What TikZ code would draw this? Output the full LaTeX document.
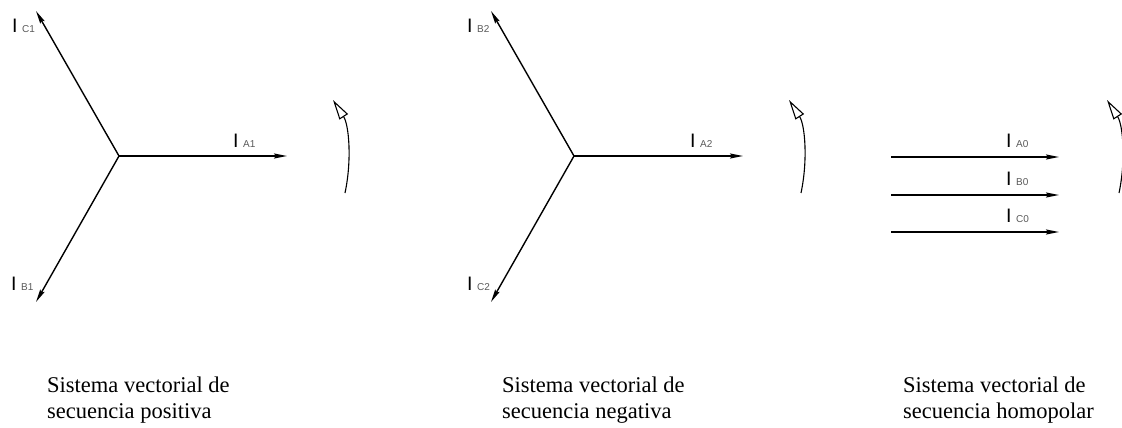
\documentclass[tikz,border=0pt]{standalone}
\usepackage{fontspec}
\setmainfont{Liberation Serif}
\newfontfamily\labfont{Liberation Sans}
\usetikzlibrary{arrows.meta}
\definecolor{subgray}{gray}{0.35}
\newcommand{\cur}[1]{{\fontsize{19.5}{19.5}\selectfont I}\hspace{4.5pt}{\fontsize{10}{10}\selectfont\color{subgray}#1}}
\tikzset{
  vec/.style={line width=1.4pt,-{Stealth[length=13pt,width=5pt,inset=2pt]}},
  rot/.style={line width=1.1pt,-{Triangle[open,length=20pt,width=10pt,line width=1.1pt]}},
  lab/.style={anchor=base west,inner sep=0pt,labfont},
  caption/.style={anchor=base west,inner sep=0pt,align=left,font=\fontsize{22.5}{26}\selectfont},
}
\begin{document}
\begin{tikzpicture}[x=1pt,y=-1pt,labfont/.style={font=\labfont}]
\useasboundingbox (0,0) rectangle (1122,428);
% ---------- positive sequence ----------
\coordinate (O1) at (119,156);
\coordinate (A1) at (287,156);
\coordinate (C1) at (36,11);
\coordinate (B1) at (36,302);
\draw[vec] (O1) -- (A1);
\draw[vec] (O1) -- (C1);
\draw[vec] (O1) -- (B1);
\node[lab] (lA1) at (233,147) {\cur{A1}};
\node[lab] (lC1) at (12,33) {\cur{C1}};
\node[lab] (lB1) at (11,290) {\cur{B1}};
\coordinate (r1s) at (345,193);
\coordinate (r1e) at (333,100);
\draw[rot] (r1s) .. controls (352,160) and (349,125) .. (r1e);
\node[caption] (t1) at (47,418) {Sistema vectorial de\\secuencia positiva};
% ---------- negative sequence ----------
\coordinate (O2) at (574,156);
\coordinate (A2) at (743,156);
\coordinate (B2) at (491,11);
\coordinate (C2) at (491,302);
\draw[vec] (O2) -- (A2);
\draw[vec] (O2) -- (B2);
\draw[vec] (O2) -- (C2);
\node[lab] (lA2) at (690,147) {\cur{A2}};
\node[lab] (lB2) at (467,33) {\cur{B2}};
\node[lab] (lC2) at (467,290) {\cur{C2}};
\coordinate (r2s) at (801,193);
\coordinate (r2e) at (789,100);
\draw[rot] (r2s) .. controls (808,160) and (805,125) .. (r2e);
\node[caption] (t2) at (502,418) {Sistema vectorial de\\secuencia negativa};
% ---------- zero sequence ----------
\coordinate (a0s) at (891,157);
\coordinate (a0e) at (1059,157);
\coordinate (b0s) at (891,195);
\coordinate (b0e) at (1059,195);
\coordinate (c0s) at (891,232);
\coordinate (c0e) at (1059,232);
\draw[vec] (a0s) -- (a0e);
\draw[vec] (b0s) -- (b0e);
\draw[vec] (c0s) -- (c0e);
\node[lab] (lA0) at (1006,147) {\cur{A0}};
\node[lab] (lB0) at (1006,185) {\cur{B0}};
\node[lab] (lC0) at (1006,222) {\cur{C0}};
\coordinate (r3s) at (1119,193);
\coordinate (r3e) at (1107,100);
\draw[rot] (r3s) .. controls (1126,160) and (1123,125) .. (r3e);
\node[caption] (t3) at (903,418) {Sistema vectorial de\\secuencia homopolar};
\end{tikzpicture}
\end{document}
